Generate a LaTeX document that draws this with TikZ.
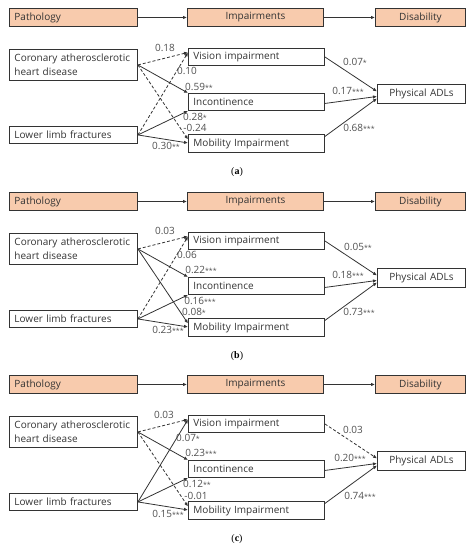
\documentclass[tikz,border=0pt]{standalone}
\usepackage{fontspec}
\setmainfont{Open Sans}
\newfontfamily\capfont{Liberation Serif}
\usetikzlibrary{arrows.meta}
\definecolor{hdr}{HTML}{F8CBAD}
\definecolor{ln}{HTML}{333333}
\definecolor{txt}{HTML}{333333}
\definecolor{lbc}{HTML}{505050}
\newcommand{\sg}[1]{{\fontsize{7}{7}\selectfont\raisebox{-0.6pt}{#1}}}
\newcommand{\mkpanel}[3]{%
  \node[hdrbox, text width=118pt, align=left] (p#1) at (9,8+#2) {Pathology};
  \node[hdrbox, text width=126pt, align=center] (i#1) at (187,8+#2) {Impairments};
  \node[hdrbox, text width=80pt, align=center] (d#1) at (375,8+#2) {Disability};
  \draw[arr] (p#1) -- (i#1);
  \draw[arr] (i#1) -- (d#1);
  \node[box, minimum height=31pt, text width=118pt, align=left] (c#1) at (9,49+#2) {Coronary atherosclerotic\\heart disease};
  \node[box, minimum height=17pt, text width=118pt, align=left] (l#1) at (9,126+#2) {Lower limb fractures};
  \node[box, minimum height=17pt, text width=126pt, align=left] (v#1) at (188,48+#2) {Vision impairment};
  \node[box, minimum height=17pt, text width=126pt, align=left] (n#1) at (188,93+#2) {Incontinence};
  \node[box, minimum height=18pt, text width=126pt, align=left] (m#1) at (188,134+#2) {Mobility Impairment};
  \node[box, minimum height=19pt, text width=78pt, align=center] (a#1) at (377,84+#2) {Physical ADLs};
  \node[font=\capfont\fontsize{10}{12}\selectfont, inner sep=0pt] (cap#1) at (237,172+#2) {(\textbf{#3})};
}
\begin{document}
\begin{tikzpicture}[x=1pt,y=-1pt, font=\fontsize{10}{14}\selectfont,
  box/.style={draw=ln, line width=0.9pt, anchor=north west, inner xsep=5pt, inner ysep=0pt, text=txt},
  hdrbox/.style={box, fill=hdr, minimum height=18pt},
  arr/.style={draw=ln, line width=0.8pt, -{Latex[length=4pt,width=3.5pt]}},
  dsh/.style={arr, dash pattern=on 3pt off 2pt},
  lbl/.style={inner sep=0pt, text=lbc}]
\useasboundingbox (0,0) rectangle (474,550);

% ---------- panel (a)
\mkpanel{A}{0}{a}
\draw[dsh] (cA.east) -- ([yshift=4.5pt]vA.west);
\draw[arr] (cA.east) -- (nA.north west);
\draw[dsh] (cA.east) -- ([yshift=4pt]mA.west);
\draw[dsh] (lA.east) -- ([yshift=4.5pt]vA.west);
\draw[arr] (lA.east) -- (nA.south west);
\draw[arr] (lA.east) -- ([yshift=0.5pt]mA.west);
\draw[arr] (vA.east) -- ([yshift=2.5pt]aA.west);
\draw[arr] ([yshift=-1.5pt]nA.east) -- ([yshift=-2.5pt]aA.west);
\draw[arr] ([yshift=7pt]mA.east) -- ([yshift=-4.5pt]aA.west);
\node[lbl] (a1) at (165,48) {0.18};
\node[lbl] (a2) at (187,71) {0.10};
\node[lbl] (a3) at (199,87) {0.59\sg{**}};
\node[lbl] (a4) at (195,117) {0.28\sg{*}};
\node[lbl] (a5) at (195,128) {-0.24};
\node[lbl] (a6) at (166,146) {0.30\sg{**}};
\node[lbl] (a7) at (355,62) {0.07\sg{*}};
\node[lbl] (a8) at (348,91) {0.17\sg{***}};
\node[lbl] (a9) at (359,128) {0.68\sg{***}};

% ---------- panel (b)
\mkpanel{B}{184}{b}
\draw[dsh] (cB.east) -- ([yshift=4.5pt]vB.west);
\draw[arr] (cB.east) -- (nB.north west);
\draw[arr] (cB.east) -- ([yshift=4pt]mB.west);
\draw[dsh] (lB.east) -- ([yshift=4.5pt]vB.west);
\draw[arr] (lB.east) -- (nB.south west);
\draw[arr] (lB.east) -- ([yshift=0.5pt]mB.west);
\draw[arr] (vB.east) -- ([yshift=2.5pt]aB.west);
\draw[arr] ([yshift=-1.5pt]nB.east) -- ([yshift=-2.5pt]aB.west);
\draw[arr] ([yshift=7pt]mB.east) -- ([yshift=-4.5pt]aB.west);
\node[lbl] (b1) at (165,231) {0.03};
\node[lbl] (b2) at (187,255) {0.06};
\node[lbl] (b3) at (201,270) {0.22\sg{***}};
\node[lbl] (b4) at (200,301) {0.16\sg{***}};
\node[lbl] (b5) at (194,312) {0.08\sg{*}};
\node[lbl] (b6) at (168,330) {0.23\sg{***}};
\node[lbl] (b7) at (358,247) {0.05\sg{**}};
\node[lbl] (b8) at (348,275) {0.18\sg{***}};
\node[lbl] (b9) at (359,312) {0.73\sg{***}};

% ---------- panel (c)
\mkpanel{C}{367}{c}
\draw[dsh] (cC.east) -- ([yshift=4.5pt]vC.west);
\draw[arr] (cC.east) -- (nC.north west);
\draw[dsh] (cC.east) -- ([yshift=4pt]mC.west);
\draw[arr] (lC.east) -- ([yshift=4.5pt]vC.west);
\draw[arr] (lC.east) -- (nC.south west);
\draw[arr] (lC.east) -- ([yshift=0.5pt]mC.west);
\draw[dsh] (vC.east) -- ([yshift=2.5pt]aC.west);
\draw[arr] ([yshift=-1.5pt]nC.east) -- ([yshift=-2.5pt]aC.west);
\draw[arr] ([yshift=7pt]mC.east) -- ([yshift=-4.5pt]aC.west);
\node[lbl] (c1) at (164,415) {0.03};
\node[lbl] (c2) at (188,438) {0.07\sg{*}};
\node[lbl] (c3) at (201,453) {0.23\sg{***}};
\node[lbl] (c4) at (197,484) {0.12\sg{**}};
\node[lbl] (c5) at (196,496) {-0.01};
\node[lbl] (c6) at (168,514) {0.15\sg{***}};
\node[lbl] (c7) at (353,430) {0.03};
\node[lbl] (c8) at (350,458) {0.20\sg{***}};
\node[lbl] (c9) at (360,496) {0.74\sg{***}};
\end{tikzpicture}
\end{document}
